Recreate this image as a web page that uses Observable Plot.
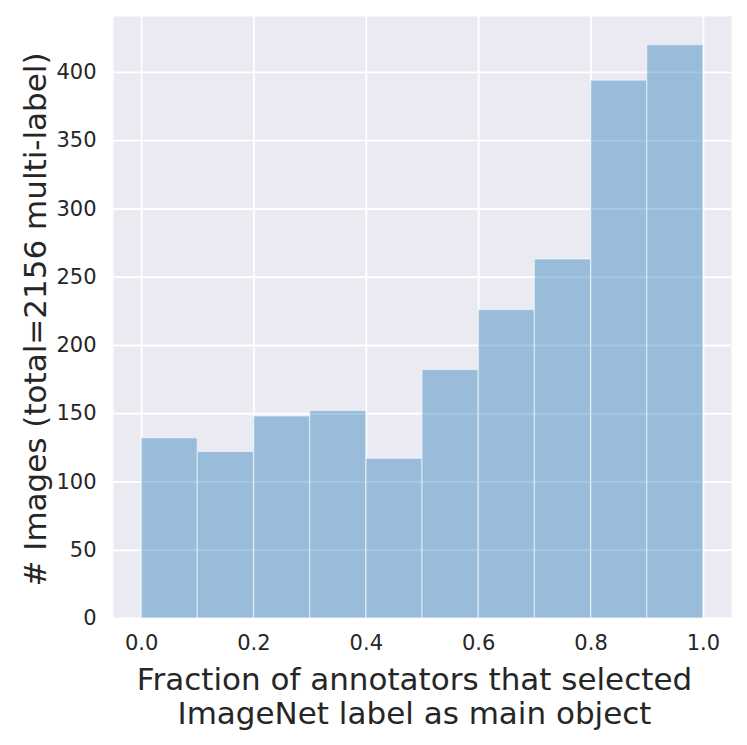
<!DOCTYPE html>
<html>
<head>
<meta charset="utf-8">
<script src="https://cdn.jsdelivr.net/npm/d3@7"></script>
<script src="https://cdn.jsdelivr.net/npm/@observablehq/plot@0.6"></script>
<style>
  html, body { margin: 0; padding: 0; background: #fff; }
  #chart svg { display: block; }
</style>
</head>
<body>
<div id="chart"></div>
<script>
// Histogram bins (fraction of annotators) and counts
const binStarts = [0.0, 0.1, 0.2, 0.3, 0.4, 0.5, 0.6, 0.7, 0.8, 0.9];
const binWidth = 0.1;
const counts = [132, 122, 148, 152, 117, 182, 226, 263, 394, 420];
const xTicks = [0.0, 0.2, 0.4, 0.6, 0.8, 1.0];
const yTicks = [0, 50, 100, 150, 200, 250, 300, 350, 400];
const xLabel = "Fraction of annotators that selected\nImageNet label as main object";
const yLabel = "# Images (total=2156 multi-label)";

const bins = binStarts.map((s, i) => ({x1: s, x2: s + binWidth, count: counts[i]}));

const chart = Plot.plot({
  width: 747,
  height: 745,
  marginLeft: 113,
  marginRight: 16,
  marginTop: 16,
  marginBottom: 127,
  style: {fontFamily: "DejaVu Sans, sans-serif", color: "#262626", background: "#fff"},
  x: {domain: [-0.05, 1.05], ticks: xTicks, tickFormat: d3.format(".1f")},
  y: {domain: [0, 441], ticks: yTicks},
  marks: [
    Plot.frame({fill: "#eaeaf2", stroke: null}),
    Plot.gridX(xTicks, {stroke: "#fff", strokeOpacity: 1, strokeWidth: 1.8}),
    Plot.gridY(yTicks, {stroke: "#fff", strokeOpacity: 1, strokeWidth: 1.8}),
    Plot.rectY(bins, {x1: "x1", x2: "x2", y: "count", fill: "#1f77b4", fillOpacity: 0.4, stroke: "#fff", strokeOpacity: 0.5, strokeWidth: 1.2, inset: 0}),
    Plot.axisX(xTicks, {tickSize: 0, tickPadding: 17, fontSize: 21, label: null, tickFormat: d3.format(".1f")}),
    Plot.axisY(yTicks, {tickSize: 0, tickPadding: 17, fontSize: 21, label: null}),
    Plot.text([yLabel], {frameAnchor: "left", text: d => d, rotate: -90, textAnchor: "middle", dx: -77, dy: 2, fontSize: 31, fill: "#262626"}),
    Plot.text([xLabel], {frameAnchor: "bottom", text: d => d, dx: -8, dy: 47, lineAnchor: "top", lineHeight: 1.1, fontSize: 31, fill: "#262626"})
  ]
});
document.getElementById("chart").appendChild(chart);
</script>
</body>
</html>
